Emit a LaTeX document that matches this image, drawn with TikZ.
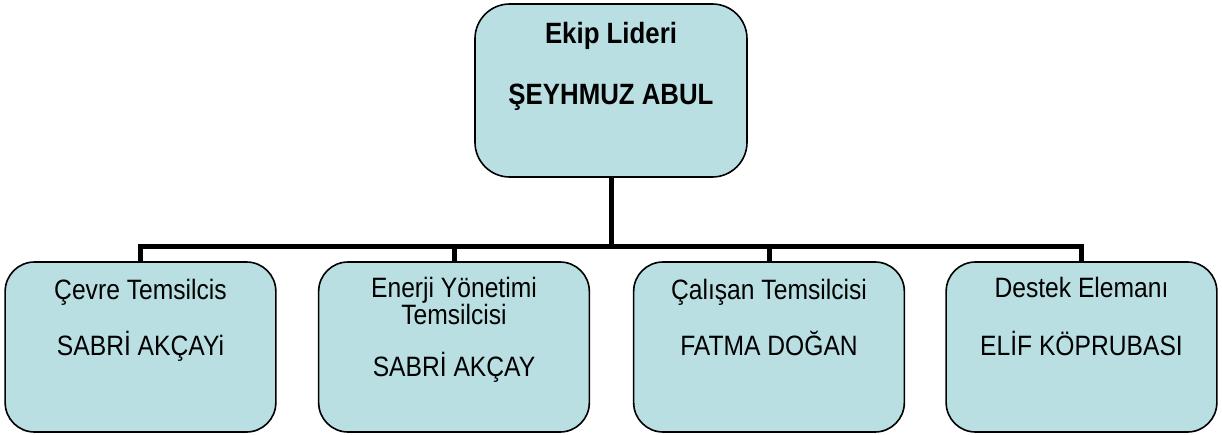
\documentclass[tikz,border=0pt]{standalone}
\usepackage{fontspec}
\setmainfont{Liberation Sans}[FakeStretch=0.88]
\usetikzlibrary{calc}
\definecolor{kutumavi}{RGB}{185,223,227}
\newcommand\sikisatir{\lineskiplimit=-100pt\relax}

\tikzset{
	kutu/.style={draw=black, line width=1.2pt, fill=kutumavi, rounded corners=22pt,
		minimum width=203pt, minimum height=127.5pt, inner sep=0pt},
	yazi/.style={anchor=base, align=center, inner sep=0pt,
		font=\fontsize{21}{20.25}\selectfont\sikisatir},
	hat/.style={line width=3.75pt}
}

\begin{document}
\begin{tikzpicture}[x=0.75pt, y=-0.75pt]
		%%%%% START %%%%%
		\useasboundingbox (0, 0) rectangle (1222, 435);
		
		\node[kutu, rounded corners=26pt, minimum width=204pt, minimum height=129.75pt] (lider) at (611, 90.5) {};
		\node[yazi, font=\bfseries\fontsize{22}{23}\selectfont\sikisatir] (lidertxt) at ([yshift=-75.75pt]lider.north) {Ekip Lideri\\[22.75pt]ŞEYHMUZ ABUL};
		
		\node[kutu] (cevre) at (140.5, 347) {};
		\node[kutu] (enerji) at (454, 347) {};
		\node[kutu] (calisan) at (769, 347) {};
		\node[kutu] (destek) at (1081.5, 347) {};
		
		% base = last line
		\node[yazi] (cevretxt) at ([yshift=-70.5pt]cevre.north) {Çevre Temsilcis\\[21.75pt]SABRİ AKÇAYi};
		\node[yazi] (enerjitxt) at ([yshift=-86.25pt]enerji.north) {Enerji Yönetimi\\Temsilcisi\\[18.75pt]SABRİ AKÇAY};
		\node[yazi] (calisantxt) at ([yshift=-70.5pt]calisan.north) {Çalışan Temsilcisi\\[21.75pt]FATMA DOĞAN};
		\node[yazi] (destektxt) at ([yshift=-70.5pt]destek.north) {Destek Elemanı\\[23.25pt]ELİF KÖPRUBASI};
		
		\coordinate (hub) at (611, 246);
		\draw[hat] (lider.south) -- (hub);
		\draw[hat] (cevre.north) -- (cevre.north |- hub) -- (destek.north |- hub) -- (destek.north);
		\draw[hat] (enerji.north) -- (enerji.north |- hub);
		\draw[hat] (calisan.north) -- (calisan.north |- hub);
		%%%%% END %%%%%
\end{tikzpicture}
\end{document}
